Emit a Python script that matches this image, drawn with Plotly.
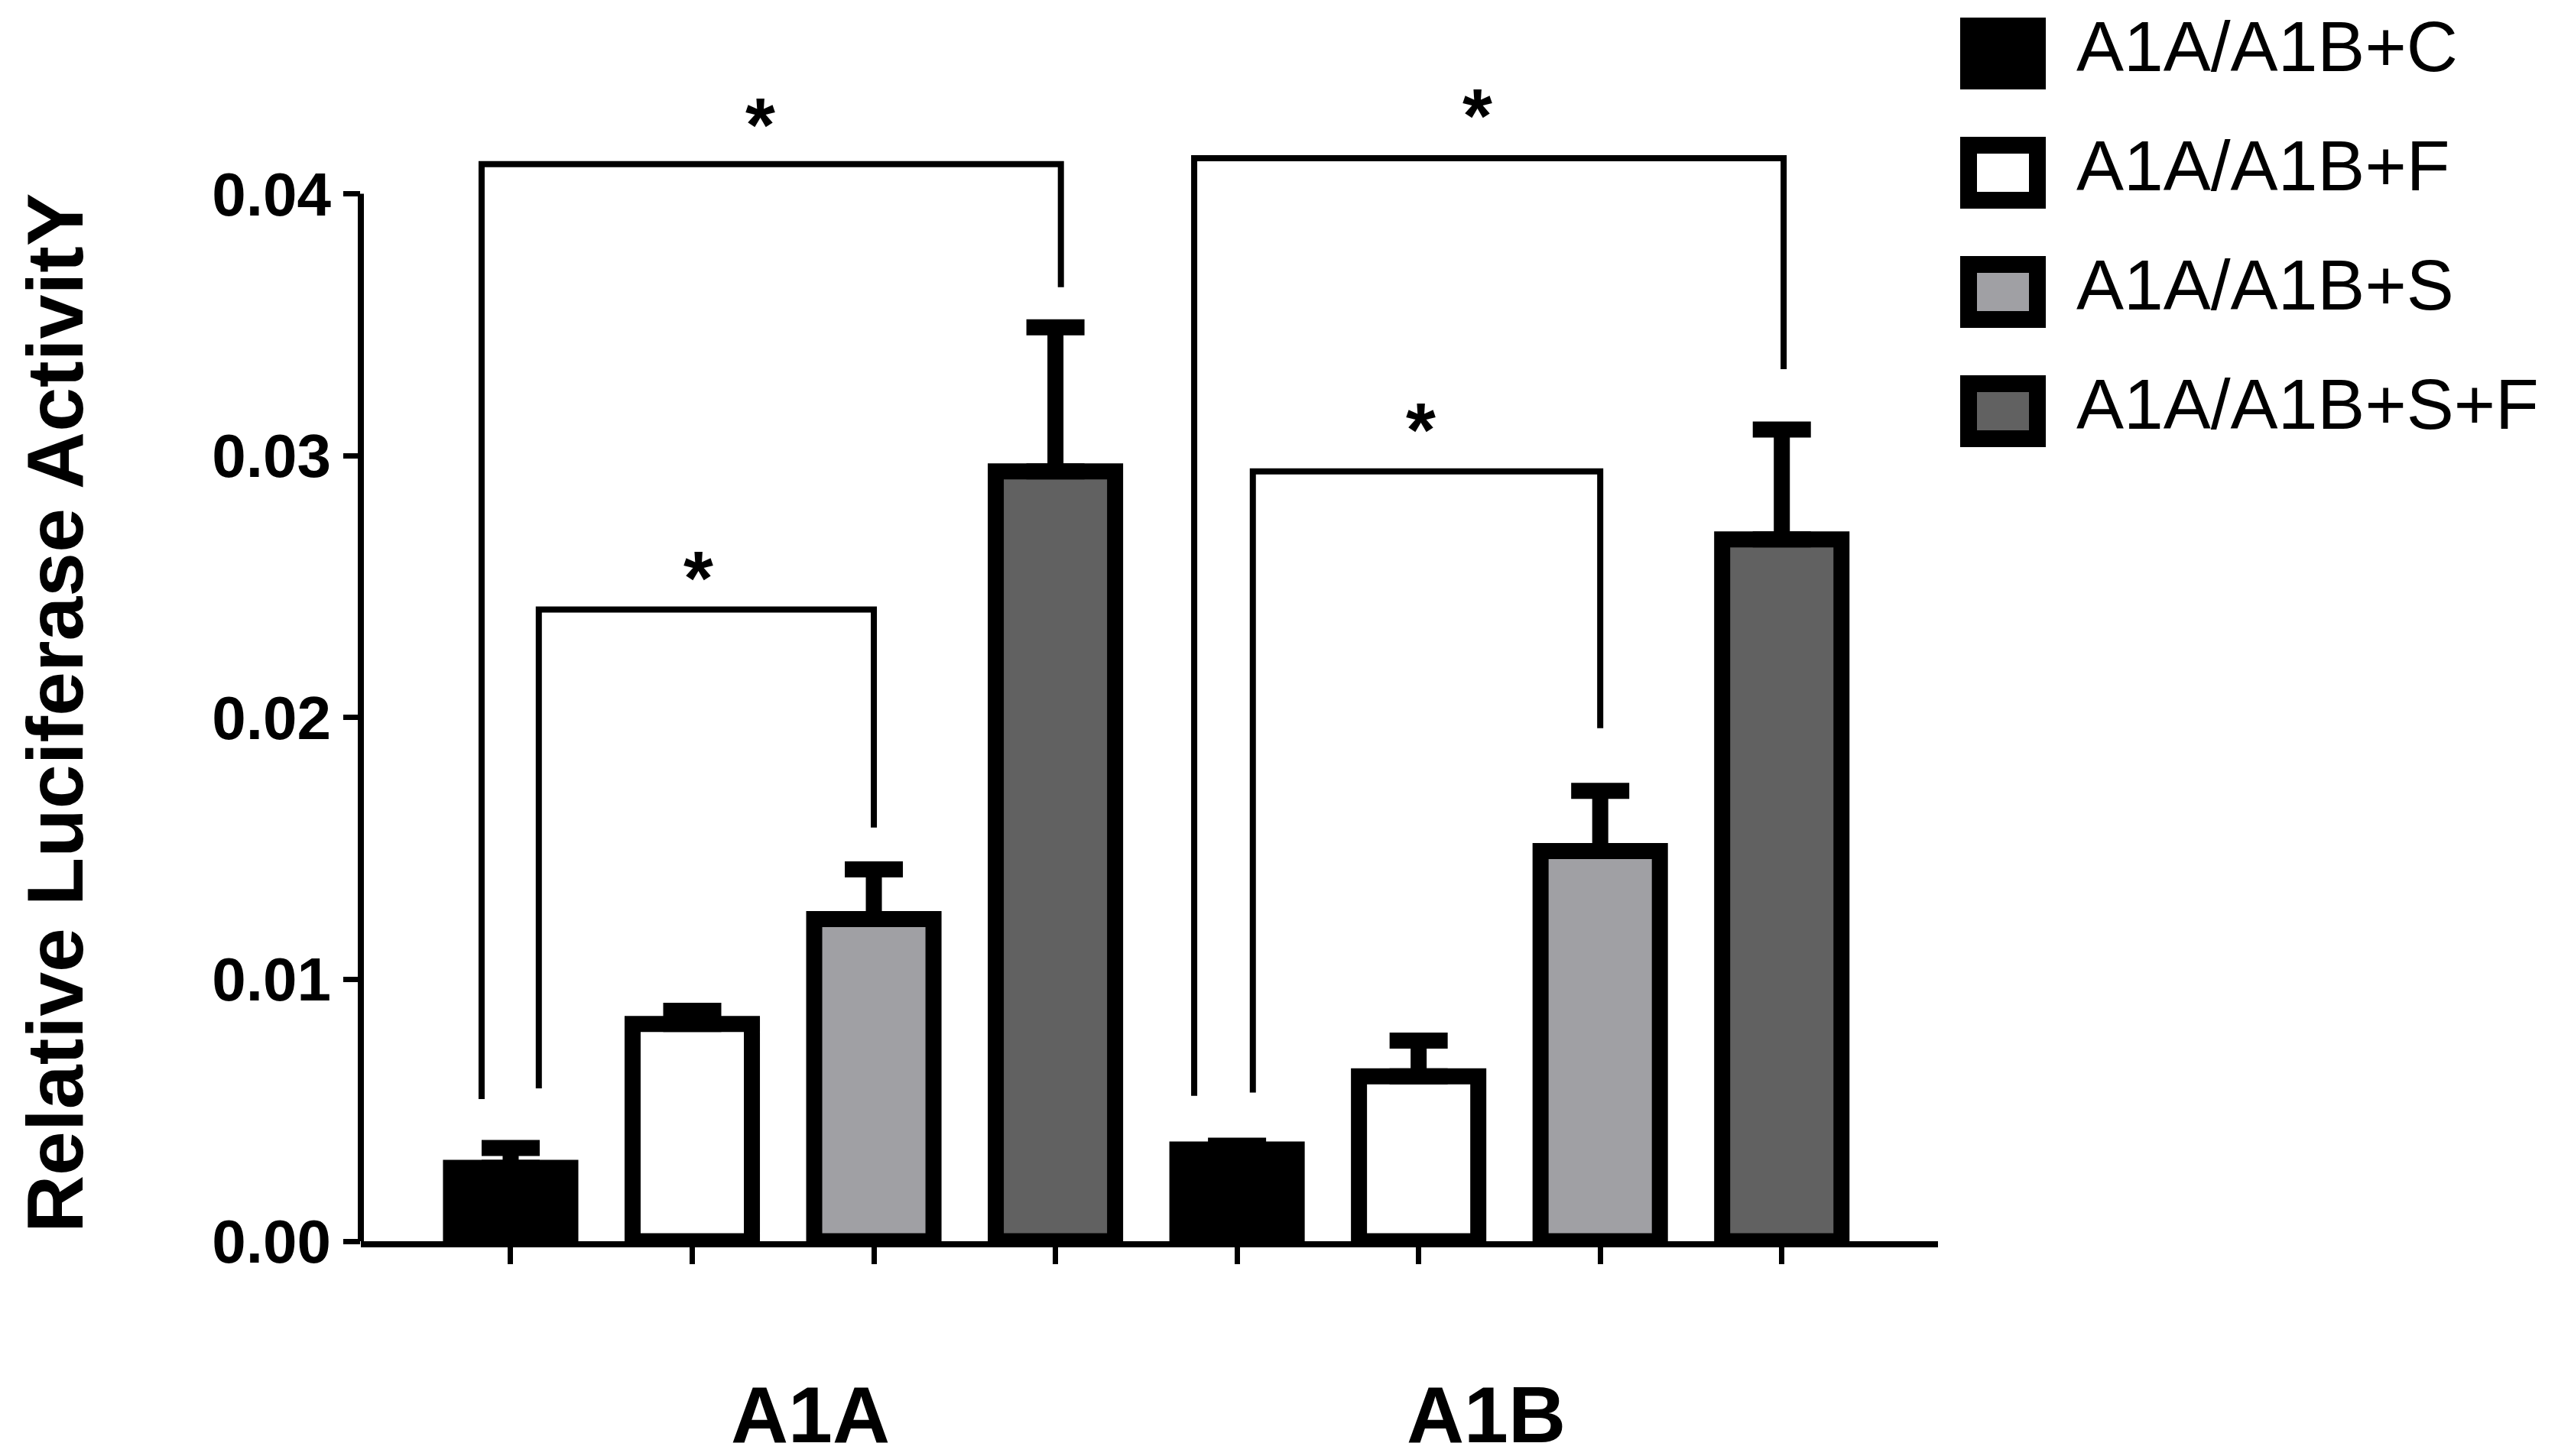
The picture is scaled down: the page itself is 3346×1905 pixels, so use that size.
import plotly.graph_objects as go

# ============================================
# Data
# ============================================
series = ['A1A/A1B+C', 'A1A/A1B+F', 'A1A/A1B+S', 'A1A/A1B+S+F']
fill_colors = ['#000000', '#FFFFFF', '#A0A0A4', '#616161']
groups = ['A1A', 'A1B']

# mean per series, [A1A, A1B]
mean_c = [0.0028, 0.0035]
mean_f = [0.0083, 0.0063]
mean_s = [0.0123, 0.0149]
mean_sf = [0.0294, 0.0268]

# upper error (SEM) per series, [A1A, A1B]
err_c = [0.00076, 0.00015]
err_f = [0.0005, 0.00136]
err_s = [0.0019, 0.0023]
err_sf = [0.0055, 0.0042]

means = [mean_c, mean_f, mean_s, mean_sf]
errs = [err_c, err_f, err_s, err_sf]

# significance brackets: left x, right x, top, left foot, right foot
bracket_x0 = [-0.16, 0.155, 3.764, 4.087]
bracket_x1 = [3.03, 2.0, 7.01, 6.0]
bracket_top = [0.04113, 0.02412, 0.04136, 0.0294]
bracket_left_foot = [0.00543, 0.00584, 0.00555, 0.00568]
bracket_right_foot = [0.03643, 0.0158, 0.0333, 0.01959]
star_x = [1.376, 1.035, 5.325, 5.01]
star_y = [0.04285, 0.02554, 0.0432, 0.0312]

y_ticks = [0, 0.01, 0.02, 0.03, 0.04]
y_tick_text = ['0.00', '0.01', '0.02', '0.03', '0.04']

FONT = 'Liberation Sans'

# ============================================
# Page geometry (pixels)
# ============================================
W, H = 3346, 1905
L, R, T, B = 464, 819, 91, 289
PW, PH = W - L - R, H - T - B


def px_x(px):
    return (px - L) / PW


def px_y(py):
    return (H - B - py) / PH


fig = go.Figure()

# bars: 4 series, each at positions i (A1A) and i+4 (A1B)
for i, name in enumerate(series):
    fig.add_trace(go.Bar(
        x=[i, i + 4],
        y=means[i],
        width=0.657,
        name=name,
        marker=dict(color=fill_colors[i], line=dict(color='black', width=21)),
        error_y=dict(type='data', symmetric=False, array=errs[i],
                     arrayminus=[0, 0], color='black', thickness=21, width=38),
        showlegend=False,
    ))

# brackets
for k in range(len(bracket_x0)):
    fig.add_trace(go.Scatter(
        x=[bracket_x0[k], bracket_x0[k], bracket_x1[k], bracket_x1[k]],
        y=[bracket_left_foot[k], bracket_top[k], bracket_top[k], bracket_right_foot[k]],
        mode='lines',
        line=dict(color='black', width=8),
        showlegend=False,
        hoverinfo='skip',
    ))
    fig.add_annotation(x=star_x[k], y=star_y[k], xref='x', yref='y',
                       text='*', showarrow=False, yanchor='middle', yshift=-7,
                       font=dict(family=FONT, size=100, color='black', weight='bold'))

# y axis line only up to 0.04 (like Prism)
fig.add_shape(type='line', xref='paper', yref='y', x0=0, x1=0, y0=0, y1=0.04,
              line=dict(color='black', width=8))

# y axis title
fig.add_annotation(x=px_x(64), y=px_y(925), xref='paper', yref='paper',
                   text='Relative Luciferase ActivitY', textangle=-90,
                   showarrow=False, xanchor='center', yanchor='middle',
                   font=dict(family=FONT, size=104, color='black', weight='bold'))

# group labels
group_x = [1.65, 5.37]
for gx, g in zip(group_x, groups):
    fig.add_annotation(x=gx, y=px_y(1843), xref='x', yref='paper', text=g,
                       showarrow=False, xanchor='center', yanchor='middle',
                       font=dict(family=FONT, size=104, color='black', weight='bold'))

# legend drawn by hand (big boxes like the original)
for i, name in enumerate(series):
    cy = 62 + 156 * i
    cx = 2612
    fig.add_shape(type='rect', xref='paper', yref='paper',
                  x0=px_x(cx - 45), x1=px_x(cx + 45),
                  y0=px_y(cy + 36), y1=px_y(cy - 36),
                  fillcolor=fill_colors[i], line=dict(color='black', width=22))
    fig.add_annotation(x=px_x(2706), y=px_y(cy - 9), xref='paper', yref='paper',
                       text=name, showarrow=False, xanchor='left', yanchor='middle',
                       font=dict(family=FONT, size=93, color='black'))

fig.update_layout(
    width=W, height=H,
    margin=dict(l=L, r=R, t=T, b=B, pad=0),
    plot_bgcolor='white', paper_bgcolor='white',
    barmode='overlay',
)

fig.update_xaxes(
    range=[-0.825, 7.86],
    tickvals=list(range(8)), ticktext=[''] * 8,
    ticks='outside', ticklen=22, tickwidth=7, tickcolor='black',
    showline=True, linecolor='black', linewidth=8,
    showgrid=False, zeroline=False,
)
fig.update_yaxes(
    range=[0, 0.04451],
    tickvals=y_ticks, ticktext=y_tick_text,
    ticks='outside', ticklen=22, tickwidth=7, tickcolor='black',
    tickfont=dict(family=FONT, size=80, color='black', weight='bold'),
    showline=False, showgrid=False, zeroline=False,
)

fig.write_html("out.html")
